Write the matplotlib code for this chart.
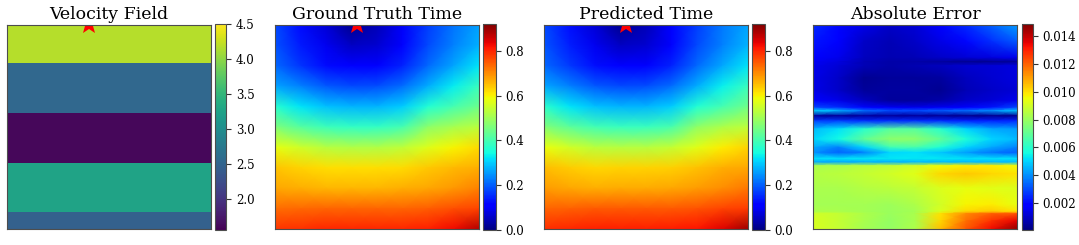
import numpy as np
import matplotlib
matplotlib.use("Agg")
import matplotlib.pyplot as plt

plt.rcParams['font.family'] = 'DejaVu Serif'

# velocity model: layer boundaries (fraction of depth) and velocity of each layer
layer_edges = [0.0, 0.186, 0.431, 0.676, 0.917, 1.0]
layer_vel = [4.17, 2.53, 1.60, 3.26, 2.45]
vel_range = [1.55, 4.5]

# source position (x, depth)
source = [0.40, 0.0]

# columns where the fields were read
grid_x = [0.0, 0.125, 0.25, 0.375, 0.5, 0.625, 0.75, 0.875, 1.0]

# travel time, rows at these depths
time_z = [0.0, 0.1, 0.2, 0.3, 0.4, 0.5, 0.6, 0.7, 0.8, 0.9, 1.0]
time_max = 0.92
gt_time = [
    [0.18, 0.125, 0.07, 0.012, 0.045, 0.10, 0.17, 0.22, 0.26],
    [0.19, 0.14, 0.09, 0.055, 0.065, 0.115, 0.18, 0.23, 0.275],
    [0.21, 0.165, 0.125, 0.105, 0.11, 0.145, 0.21, 0.265, 0.32],
    [0.265, 0.23, 0.195, 0.18, 0.185, 0.215, 0.27, 0.33, 0.385],
    [0.37, 0.32, 0.29, 0.28, 0.28, 0.30, 0.36, 0.40, 0.445],
    [0.465, 0.42, 0.39, 0.38, 0.38, 0.40, 0.48, 0.51, 0.53],
    [0.58, 0.55, 0.525, 0.52, 0.52, 0.535, 0.57, 0.60, 0.625],
    [0.645, 0.63, 0.62, 0.62, 0.62, 0.625, 0.64, 0.655, 0.665],
    [0.675, 0.665, 0.66, 0.66, 0.66, 0.665, 0.675, 0.69, 0.71],
    [0.73, 0.735, 0.74, 0.74, 0.74, 0.74, 0.745, 0.76, 0.77],
    [0.785, 0.79, 0.80, 0.80, 0.80, 0.80, 0.805, 0.83, 0.88],
]
pred_time = [
    [0.182, 0.127, 0.071, 0.012, 0.046, 0.101, 0.172, 0.223, 0.264],
    [0.192, 0.141, 0.091, 0.056, 0.066, 0.116, 0.182, 0.232, 0.278],
    [0.211, 0.166, 0.126, 0.106, 0.111, 0.146, 0.211, 0.266, 0.321],
    [0.266, 0.231, 0.195, 0.18, 0.185, 0.215, 0.271, 0.331, 0.386],
    [0.372, 0.322, 0.291, 0.28, 0.28, 0.30, 0.361, 0.401, 0.448],
    [0.469, 0.425, 0.396, 0.387, 0.387, 0.405, 0.484, 0.514, 0.534],
    [0.584, 0.554, 0.53, 0.526, 0.526, 0.54, 0.574, 0.604, 0.629],
    [0.653, 0.638, 0.628, 0.629, 0.629, 0.635, 0.65, 0.665, 0.675],
    [0.683, 0.673, 0.668, 0.669, 0.669, 0.674, 0.684, 0.699, 0.719],
    [0.738, 0.743, 0.748, 0.748, 0.748, 0.749, 0.755, 0.77, 0.779],
    [0.794, 0.799, 0.808, 0.808, 0.808, 0.81, 0.817, 0.843, 0.895],
]

# absolute error (x 1e-3), rows at these depths
err_z = [0.0, 0.08, 0.16, 0.18, 0.20, 0.26, 0.32, 0.37, 0.405, 0.42, 0.445,
         0.47, 0.51, 0.56, 0.60, 0.625, 0.655, 0.672, 0.69, 0.73, 0.80,
         0.88, 0.915, 0.925, 0.96, 1.0]
abs_err = [
    [2.5, 2.0, 1.4, 1.0, 1.2, 1.7, 2.5, 3.3, 4.2],
    [2.2, 1.8, 1.0, 0.8, 1.0, 1.4, 2.0, 2.6, 3.2],
    [1.9, 1.5, 0.9, 0.7, 0.8, 1.0, 1.2, 1.3, 1.5],
    [1.6, 1.3, 0.8, 0.6, 0.6, 0.5, 0.3, 0.3, 0.4],
    [1.5, 1.2, 0.8, 0.6, 0.7, 0.9, 1.1, 1.2, 1.3],
    [1.4, 1.0, 0.3, 0.4, 0.4, 0.5, 0.9, 1.1, 1.3],
    [1.4, 1.0, 0.4, 0.5, 0.5, 0.3, 0.8, 1.0, 1.2],
    [1.8, 1.4, 0.9, 0.4, 0.4, 0.6, 1.0, 1.2, 1.5],
    [3.0, 2.6, 2.0, 1.6, 1.5, 1.6, 1.8, 2.2, 3.0],
    [5.0, 4.5, 3.5, 3.0, 3.0, 3.2, 3.5, 4.0, 4.8],
    [0.5, 0.4, 0.5, 0.5, 0.5, 0.4, 0.3, 0.3, 0.3],
    [2.8, 2.8, 2.6, 2.6, 2.6, 2.5, 2.4, 2.4, 2.5],
    [4.6, 5.2, 6.0, 6.8, 6.8, 6.0, 5.0, 4.4, 4.2],
    [5.0, 5.6, 7.0, 7.8, 7.8, 7.0, 5.8, 5.0, 4.6],
    [4.4, 3.8, 5.0, 6.4, 6.6, 5.8, 5.0, 4.4, 3.8],
    [4.0, 3.3, 3.8, 5.0, 5.2, 4.8, 4.2, 3.6, 3.3],
    [5.2, 5.2, 5.3, 5.3, 5.3, 5.3, 5.2, 5.2, 5.2],
    [4.4, 4.4, 4.5, 4.5, 4.6, 4.6, 4.6, 4.6, 4.6],
    [8.4, 8.4, 8.6, 8.7, 9.0, 9.6, 9.8, 9.8, 9.6],
    [8.5, 8.6, 8.8, 9.0, 9.3, 10.2, 10.4, 10.2, 10.0],
    [8.3, 8.3, 8.5, 8.6, 8.8, 9.2, 9.4, 9.3, 9.2],
    [8.2, 8.2, 8.2, 8.1, 8.4, 9.0, 9.7, 9.8, 9.4],
    [8.4, 8.3, 8.2, 8.0, 8.2, 9.2, 10.2, 10.4, 10.0],
    [9.0, 8.8, 8.4, 8.0, 8.3, 10.0, 11.4, 12.0, 12.2],
    [9.1, 8.8, 8.3, 7.9, 8.3, 10.2, 11.8, 12.8, 13.6],
    [9.1, 8.8, 8.2, 7.9, 8.4, 10.6, 12.2, 13.4, 14.7],
]
err_range = [0.00005, 0.0149]

titles = ["Velocity Field", "Ground Truth Time", "Predicted Time", "Absolute Error"]

W, H = 1079, 245
fig = plt.figure(figsize=(W / 100, H / 100), dpi=100)


def px_axes(x0, y0, x1, y1):
    return fig.add_axes([x0 / W, 1 - y1 / H, (x1 - x0) / W, (y1 - y0) / H])


boxes = [
    ((7, 25, 211, 229), (215, 24, 226, 230)),
    ((275, 25, 479, 229), (483, 24, 496, 230)),
    ((544, 25, 748, 229), (752, 24, 765, 230)),
    ((813, 25, 1017, 229), (1022, 24, 1033, 230)),
]

gx = np.array(grid_x)
for i, (abox, cbox) in enumerate(boxes):
    ax = px_axes(*abox)
    cax = px_axes(*cbox)
    if i == 0:
        C = np.array(layer_vel).reshape(-1, 1)
        m = ax.pcolormesh([0, 1], layer_edges, C, cmap='viridis',
                          vmin=vel_range[0], vmax=vel_range[1])
    elif i in (1, 2):
        data = np.array(gt_time if i == 1 else pred_time)
        X, Z = np.meshgrid(gx, time_z)
        m = ax.pcolormesh(X, Z, data, shading='gouraud', cmap='jet',
                          vmin=0, vmax=time_max)
    else:
        data = np.array(abs_err) * 1e-3
        X, Z = np.meshgrid(gx, err_z)
        m = ax.pcolormesh(X, Z, data, shading='gouraud', cmap='jet',
                          vmin=err_range[0], vmax=err_range[1])
    if i < 3:
        ax.plot(source[0], source[1], marker='*', color='red',
                markersize=14, markeredgewidth=0, clip_on=True)
    ax.set_xlim(0, 1)
    ax.set_ylim(1, 0)
    ax.set_xticks([])
    ax.set_yticks([])
    for s in ax.spines.values():
        s.set_color('0.3')
        s.set_linewidth(0.8)
    ax.set_title(titles[i], fontsize=12.5, pad=4)
    cb = fig.colorbar(m, cax=cax)
    cb.outline.set_edgecolor('0.3')
    cb.outline.set_linewidth(0.8)
    cb.ax.tick_params(labelsize=8.5, length=3.5, width=0.8, color='0.2')

fig.savefig("out.png", dpi=100)
